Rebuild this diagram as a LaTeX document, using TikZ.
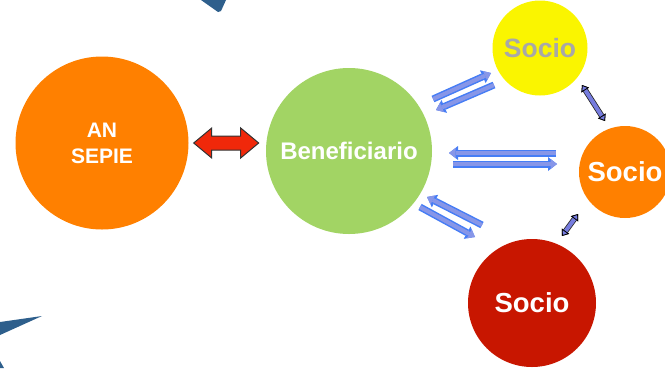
\documentclass[tikz,border=0pt]{standalone}
\usepackage{fontspec}
\setmainfont{Liberation Sans}
\usetikzlibrary{arrows.meta,calc}
\definecolor{cOrange}{RGB}{255,128,0}
\definecolor{cGreen}{RGB}{162,212,100}
\definecolor{cYellow}{RGB}{250,245,0}
\definecolor{cRed}{RGB}{200,22,0}
\definecolor{cGreyTxt}{RGB}{168,168,168}
\definecolor{cArrRed}{RGB}{240,40,10}
\definecolor{cBlueFill}{RGB}{135,150,232}
\definecolor{cBlueEdge}{RGB}{70,125,245}
\definecolor{cPurp}{RGB}{118,124,222}
\definecolor{cDeco}{RGB}{46,95,140}
\tikzset{
  bubble/.style={circle, inner sep=0pt, text=white, font=\bfseries, align=center},
  bluearr/.style={line width=4pt, draw=cBlueFill,
    -{Triangle[length=6.5pt,width=10pt,line width=0pt]},
    preaction={draw=cBlueEdge, line width=7pt, -{Triangle[length=9pt,width=14pt,line width=0pt]}}},
  purparr/.style={line width=4pt, draw=cPurp,
    {Triangle[length=6pt,width=9pt,line width=0.8pt,color=black,fill=cPurp]}-{Triangle[length=6pt,width=9pt,line width=0.8pt,color=black,fill=cPurp]},
    preaction={draw=black!85, line width=5.6pt, {Triangle[length=6pt,width=9pt,line width=0pt]}-{Triangle[length=6pt,width=9pt,line width=0pt]}}},
  redarr/.style={fill=cArrRed, draw=black!80, line width=1pt, line join=miter},
  deco/.style={fill=cDeco, draw=none}
}
\begin{document}
\begin{tikzpicture}[x=1pt,y=-1pt]
\useasboundingbox (0,0) rectangle (665,368);
% decorative triangles
\fill[deco] (201,0) -- (226,0) -- (221,11) -- (218,12) -- cycle;
\fill[deco] (0,322) -- (42,316) -- (0,335) -- cycle;
\fill[deco] (0,361) -- (4,368) -- (0,368) -- cycle;
% bubbles
\node[bubble, fill=cOrange, minimum size=173pt] (sepie) at (102,143) {};
\node[text=white, font=\bfseries\fontsize{21}{26}\selectfont, align=center] (sepietxt) at (102,143) {AN\\SEPIE};
\node[bubble, fill=cGreen, minimum size=166pt, font=\bfseries\fontsize{24}{28}\selectfont] (benef) at (349,151) {Beneficiario};
\node[bubble, fill=cYellow, minimum size=95pt, text=cGreyTxt, font=\bfseries\fontsize{26.5}{30}\selectfont] (s1) at (540,48) {Socio};
\node[bubble, fill=cOrange, minimum size=92pt, font=\bfseries\fontsize{27.5}{30}\selectfont] (s2) at (625,172) {Socio};
\node[bubble, fill=cRed, minimum size=128pt, font=\bfseries\fontsize{27.5}{30}\selectfont] (s3) at (532,303) {Socio};
% red double arrow between sepie and benef
\draw[redarr] ($(sepie.east)+(5,0)$) -- ++(18,-15) -- ++(0,8) -- ++(29,0) -- ++(0,-8)
  -- ++(18,15) -- ++(-18,15) -- ++(0,-8) -- ++(-29,0) -- ++(0,8) -- cycle;
% blue arrow end points
\coordinate (a1s) at (433,99);  \coordinate (a1e) at (491,73);
\coordinate (a2s) at (494,85);  \coordinate (a2e) at (436,110);
\coordinate (m1s) at (556,153); \coordinate (m1e) at (449,153);
\coordinate (m2s) at (453,164); \coordinate (m2e) at (557,164);
\coordinate (b1s) at (482,225); \coordinate (b1e) at (427,197);
\coordinate (b2s) at (420,207); \coordinate (b2e) at (475,237);
\draw[bluearr] (a1s) -- (a1e);
\draw[bluearr] (a2s) -- (a2e);
\draw[bluearr] (m1s) -- (m1e);
\draw[bluearr] (m2s) -- (m2e);
\draw[bluearr] (b1s) -- (b1e);
\draw[bluearr] (b2s) -- (b2e);
% purple links between partners
\coordinate (p1s) at (582,85);  \coordinate (p1e) at (605,121);
\coordinate (p2s) at (578,214); \coordinate (p2e) at (562,236);
\draw[purparr] (p1s) -- (p1e);
\draw[purparr] (p2s) -- (p2e);
\end{tikzpicture}
\end{document}
